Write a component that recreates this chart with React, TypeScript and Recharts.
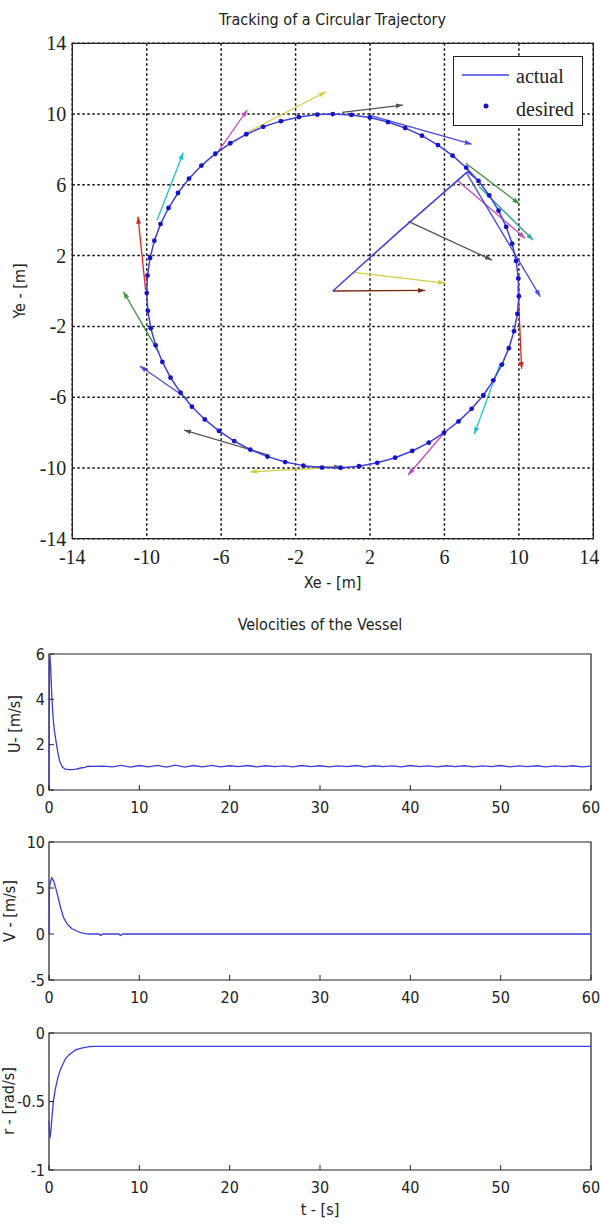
import React from 'react'
import {
  ComposedChart,
  LineChart,
  Line,
  Scatter,
  XAxis,
  YAxis,
  CartesianGrid,
  ReferenceLine,
  ReferenceArea,
} from 'recharts'

const NARROW = "'Liberation Sans Narrow', 'DejaVu Sans Condensed', 'Liberation Sans', sans-serif"
const SERIF = "'Liberation Serif', 'DejaVu Serif', serif"
const INK = '#222'

// ---- trajectory plot ----
const trajTicks = [-14, -10, -6, -2, 2, 6, 10, 14]

// desired points, clockwise starting at the top of the circle
const desiredX = [
  0, 1.0, 1.99, 2.96, 3.89, 4.79, 5.65, 6.44, 7.17, 7.83, 8.41, 8.91, 9.32, 9.64, 9.85, 9.97,
  10.0, 9.92, 9.74, 9.46, 9.09, 8.63, 8.09, 7.46, 6.76, 5.98, 5.16, 4.27, 3.35, 2.39, 1.41, 0.42,
  -0.58, -1.58, -2.56, -3.51, -4.43, -5.3, -6.12, -6.88, -7.57, -8.18, -8.72, -9.16, -9.52, -9.78,
  -9.94, -10.0, -9.96, -9.82, -9.59, -9.26, -8.83, -8.32, -7.73, -7.06, -6.31, -5.51, -4.65, -3.74,
  -2.79, -1.82, -0.83,
]
const desiredY = [
  10, 9.95, 9.8, 9.55, 9.21, 8.78, 8.25, 7.65, 6.97, 6.22, 5.4, 4.54, 3.62, 2.67, 1.7, 0.71,
  -0.29, -1.29, -2.27, -3.23, -4.16, -5.05, -5.89, -6.66, -7.37, -8.01, -8.57, -9.04, -9.42, -9.71,
  -9.9, -9.99, -9.98, -9.87, -9.67, -9.36, -8.97, -8.48, -7.91, -7.26, -6.54, -5.75, -4.9, -4.01,
  -3.07, -2.11, -1.12, -0.12, 0.87, 1.87, 2.84, 3.78, 4.69, 5.54, 6.35, 7.09, 7.76, 8.35, 8.86,
  9.28, 9.6, 9.83, 9.97,
]

// vessel leaves the origin and meets the circle near (7.2, 6.8)
const approachX = [0, 3.6, 7.25]
const approachY = [0, 3.4, 6.75]

// heading arrows (start -> tip)
const arrowStartX = [0, 1.1, 4.06, 6.67, 7.2, 7.15, 7.87, 9.95, 9.0, 6.0, -1.6, 0.2, -3.46, -7.8, -9.4, -10.06, -9.44, -6.35, -4.7, 0.5, 1.9]
const arrowStartY = [0, 1.05, 3.94, 6.27, 6.65, 7.22, 5.89, 0.3, -4.1, -8.0, -9.93, -9.97, -9.27, -6.1, -3.4, 0.05, 4.01, 7.59, 8.91, 10.1, 9.95]
const arrowEndX = [4.96, 6.04, 8.55, 10.34, 11.15, 10.03, 10.76, 10.15, 7.6, 4.05, 0.45, -4.45, -7.99, -10.37, -11.25, -10.47, -8.04, -4.6, -0.37, 3.77, 7.46]
const arrowEndY = [0.03, 0.45, 1.75, 2.98, -0.32, 4.92, 2.88, -4.4, -8.1, -10.4, -9.96, -10.22, -7.86, -4.24, -0.04, 4.2, 7.82, 10.23, 11.26, 10.51, 8.3]
const arrowColors = [
  '#7d2a14', '#cfcf45', '#555555', '#c04cc0', '#4a4ae0', '#3d8f3d', '#2aa595',
  '#e02424', '#26c0c8', '#c04cc0', '#555555', '#cfcf45', '#555555', '#4a4ae0',
  '#3d8f3d', '#e02424', '#26c0c8', '#c04cc0', '#cfcf45', '#555555', '#4a4ae0',
]

// ---- velocity plots ----
const timeTicks = [0, 10, 20, 30, 40, 50, 60]

const uTime = [0, 0.05, 0.1, 0.2, 0.3, 0.45, 0.6, 0.8, 1.0, 1.2, 1.5, 1.8, 2.2, 2.6, 3.0, 3.5, 4.0, 4.3,
  5, 6, 7, 8, 9, 10, 11, 12, 13, 14, 15, 16, 17, 18, 19, 20, 21, 22, 23, 24, 25, 26, 27, 28, 29, 30,
  31, 32, 33, 34, 35, 36, 37, 38, 39, 40, 41, 42, 43, 44, 45, 46, 47, 48, 49, 50, 51, 52, 53, 54, 55,
  56, 57, 58, 59, 60]
const uValues = [0, 5.6, 5.95, 5.3, 4.2, 3.2, 2.6, 2.1, 1.6, 1.25, 1.0, 0.92, 0.9, 0.9, 0.92, 0.97, 1.0, 1.05,
  1.04, 1.05, 1.02, 1.09, 1.01, 1.08, 1.02, 1.09, 1.01, 1.1, 1.01, 1.08, 1.02, 1.09, 1.02, 1.07, 1.03,
  1.08, 1.02, 1.07, 1.03, 1.06, 1.02, 1.08, 1.03, 1.07, 1.02, 1.06, 1.03, 1.08, 1.02, 1.07, 1.03, 1.06,
  1.02, 1.08, 1.03, 1.06, 1.02, 1.07, 1.03, 1.07, 1.02, 1.06, 1.03, 1.08, 1.02, 1.06, 1.03, 1.07, 1.02,
  1.06, 1.03, 1.07, 1.02, 1.05]

const vTime = [0, 0.05, 0.15, 0.3, 0.5, 0.8, 1.0, 1.3, 1.6, 2.0, 2.5, 3.0, 3.5, 4.0, 4.5, 5.5, 5.7, 6.0, 7.7, 7.9, 8.2, 10, 20, 30, 40, 50, 60]
const vValues = [0, 5.0, 5.6, 6.1, 5.8, 4.8, 4.0, 2.8, 1.8, 1.1, 0.6, 0.35, 0.15, 0.05, 0, 0, -0.15, 0, 0, -0.15, 0, 0, 0, 0, 0, 0, 0]

const rTime = [0, 0.1, 0.2, 0.35, 0.5, 0.7, 1.0, 1.3, 1.8, 2.2, 2.6, 3.0, 3.5, 4.0, 4.5, 5, 10, 20, 30, 40, 50, 60]
const rValues = [-0.64, -0.77, -0.72, -0.6, -0.49, -0.41, -0.32, -0.26, -0.19, -0.16, -0.14, -0.122, -0.112, -0.105, -0.1, -0.098, -0.098, -0.098, -0.098, -0.098, -0.098, -0.098]

const uTicks = [0, 2, 4, 6]
const vTicks = [-5, 0, 5, 10]
const rTicks = [-1, -0.5, 0]

const desired = desiredX.map((x, i) => ({ x, y: desiredY[i] }))
const actualPath = [
  ...approachX.map((x, i) => ({ x, y: approachY[i] })),
  ...desired.slice(9),
  ...desired.slice(0, 10),
]
const arrows = arrowStartX.map((x, i) => ({
  x1: x,
  y1: arrowStartY[i],
  x2: arrowEndX[i],
  y2: arrowEndY[i],
  color: arrowColors[i],
}))

const toSeries = (t: number[], v: number[]) => t.map((tt, i) => ({ t: tt, v: v[i] }))

function Caption({ text, cx, cy, rotate = false, size = 16 }: { text: string; cx: number; cy: number; rotate?: boolean; size?: number }) {
  return (
    <div
      style={{
        position: 'absolute',
        left: cx,
        top: cy,
        transform: `translate(-50%, -50%)${rotate ? ' rotate(-90deg)' : ''}`,
        whiteSpace: 'nowrap',
        fontFamily: NARROW,
        fontSize: size,
        lineHeight: '20px',
        color: INK,
      }}
    >
      {text}
    </div>
  )
}

// x tick of the trajectory plot; the last label is nudged so it stays on the page
function TrajXTick(props: any) {
  const { x, y, payload } = props
  const last = payload.value === 14
  return (
    <text x={last ? x - 4 : x} y={y} dy="0.71em" textAnchor="middle" fill={INK} fontSize={20} fontFamily={SERIF}>
      {payload.value}
    </text>
  )
}

function TrajectoryChart() {
  const tickStyle = { fill: INK, fontSize: 20, fontFamily: SERIF }
  return (
    <div style={{ position: 'absolute', left: 0, top: 0, width: 601, height: 600 }}>
      <ComposedChart width={601} height={600} margin={{ top: 43.3, right: 7.7, left: 0, bottom: 21.3 }}>
        <defs>
          {arrows.map((a, i) => (
            <marker key={i} id={`arrow-${i}`} markerWidth={8} markerHeight={8} refX={7} refY={4} orient="auto" markerUnits="userSpaceOnUse">
              <path d="M0,1.5 L7,4 L0,6.5 z" fill={a.color} />
            </marker>
          ))}
        </defs>
        <CartesianGrid stroke="#111" strokeDasharray="2.5 2.5" strokeWidth={1.5} />
        <XAxis type="number" dataKey="x" domain={[-14, 14]} ticks={trajTicks} interval={0} allowDataOverflow
          tickSize={0} tickMargin={11} height={40} axisLine={false} tickLine={false} tick={<TrajXTick />} />
        <YAxis type="number" dataKey="y" domain={[-14, 14]} ticks={trajTicks} interval={0} allowDataOverflow
          tickSize={0} tickMargin={6} width={72.3} axisLine={false} tickLine={false} tick={tickStyle} />
        <ReferenceArea x1={-14} x2={14} y1={-14} y2={14} fill="none" fillOpacity={0} stroke={INK} strokeWidth={1.3} />
        {arrows.map((a, i) => (
          <ReferenceLine key={i} segment={[{ x: a.x1, y: a.y1 }, { x: a.x2, y: a.y2 }]}
            stroke={a.color} strokeWidth={1.3} markerEnd={`url(#arrow-${i})`} />
        ))}
        <Line data={actualPath} dataKey="y" type="linear" stroke="#4040e0" strokeWidth={1.5}
          dot={false} activeDot={false} isAnimationActive={false} />
        <Scatter data={desired} dataKey="y" fill="#1414c8" isAnimationActive={false}
          shape={(p: any) => <circle cx={p.cx} cy={p.cy} r={2.4} fill="#1414c8" />} />
      </ComposedChart>
      <div style={{
        position: 'absolute', left: 453, top: 56, width: 130, height: 70, boxSizing: 'border-box',
        border: `1.5px solid ${INK}`, background: '#fff', fontFamily: SERIF, fontSize: 20, color: INK,
      }}>
        <svg width={60} height={70} style={{ position: 'absolute', left: 0, top: 0 }}>
          <line x1={8} y1={18} x2={55} y2={18} stroke="#4040e0" strokeWidth={1.5} />
          <circle cx={32} cy={49} r={2.5} fill="#1414c8" />
        </svg>
        <div style={{ position: 'absolute', left: 62, top: 7, lineHeight: '24px' }}>actual</div>
        <div style={{ position: 'absolute', left: 62, top: 40, lineHeight: '24px' }}>desired</div>
      </div>
    </div>
  )
}

function TimePlot({ t, v, yTicks, yDomain, plotTop, plotHeight }: {
  t: number[]; v: number[]; yTicks: number[]; yDomain: [number, number]; plotTop: number; plotHeight: number
}) {
  const h = plotHeight + 14 + 40
  const tickStyle = { fill: INK, fontSize: 16, fontFamily: NARROW }
  return (
    <div style={{ position: 'absolute', left: 0, top: plotTop - 14, width: 601, height: h }}>
      <LineChart width={601} height={h} data={toSeries(t, v)} margin={{ top: 14, right: 10, left: 0, bottom: 10 }}>
        <XAxis dataKey="t" type="number" domain={[0, 60]} ticks={timeTicks} interval={0} height={30}
          tickSize={-5} tickMargin={17} axisLine={false} tickLine={{ stroke: INK }} tick={tickStyle} />
        <XAxis xAxisId="top" orientation="top" dataKey="t" type="number" domain={[0, 60]} ticks={timeTicks}
          interval={0} height={0} tickSize={-5} axisLine={false} tickLine={{ stroke: INK }} tickFormatter={() => ''} />
        <YAxis type="number" domain={yDomain} ticks={yTicks} interval={0} width={49} allowDataOverflow
          tickSize={-5} tickMargin={9} axisLine={false} tickLine={{ stroke: INK }} tick={tickStyle} />
        <YAxis yAxisId="right" orientation="right" type="number" domain={yDomain} ticks={yTicks} interval={0}
          width={0} tickSize={-5} axisLine={false} tickLine={{ stroke: INK }} tickFormatter={() => ''} />
        <ReferenceArea x1={0} x2={60} y1={yDomain[0]} y2={yDomain[1]} fill="none" fillOpacity={0} stroke={INK} strokeWidth={1.2} />
        <Line dataKey="v" type="linear" stroke="#3c3cdc" strokeWidth={1.3} dot={false} activeDot={false} isAnimationActive={false} />
      </LineChart>
    </div>
  )
}

export default function App() {
  return (
    <div style={{ position: 'absolute', left: 0, top: 0, width: 601, height: 1227, background: '#fff', overflow: 'hidden' }}>
      <TrajectoryChart />
      <Caption text="Tracking of a Circular Trajectory" cx={332.5} cy={20} />
      <Caption text="Ye - [m]" cx={20} cy={291} rotate />
      <Caption text="Xe - [m]" cx={332.5} cy={583} />

      <Caption text="Velocities of the Vessel" cx={320} cy={625} />
      <TimePlot t={uTime} v={uValues} yTicks={uTicks} yDomain={[0, 6]} plotTop={654} plotHeight={136} />
      <TimePlot t={vTime} v={vValues} yTicks={vTicks} yDomain={[-5, 10]} plotTop={842} plotHeight={138} />
      <TimePlot t={rTime} v={rValues} yTicks={rTicks} yDomain={[-1, 0]} plotTop={1033} plotHeight={137} />
      <Caption text="U- [m/s]" cx={15} cy={724} rotate />
      <Caption text="V - [m/s]" cx={10} cy={911} rotate />
      <Caption text="r - [rad/s]" cx={9} cy={1101} rotate />
      <Caption text="t - [s]" cx={320} cy={1210} />
    </div>
  )
}
